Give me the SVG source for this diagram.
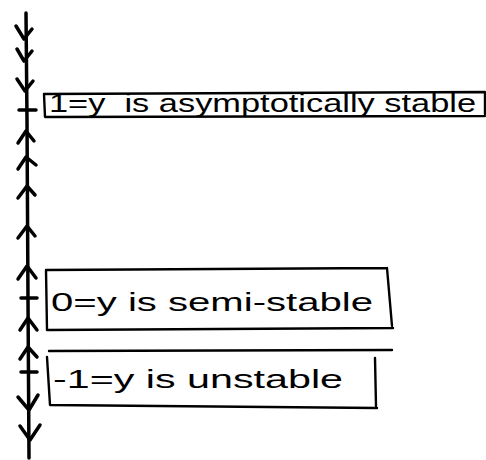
<svg xmlns="http://www.w3.org/2000/svg" width="486" height="460" viewBox="0 0 486 460">
  <style>
    .ln { fill: none; stroke: #000; stroke-width: 3.5; stroke-linecap: round; stroke-linejoin: round; }
    .box { fill: none; stroke: #000; stroke-width: 2.4; stroke-linecap: round; stroke-linejoin: round; }
    .tx { font-family: "Liberation Sans", "DejaVu Sans", sans-serif; font-size: 26px; fill: #000; }
  </style>
  <rect width="486" height="460" fill="#fff"/>
  <g id="connectors">
    <path class="ln" d="M26,13 L27,120 L28,300 L29,458"/>
    <polyline class="ln" points="16,26 24,39 32,29"/>
    <polyline class="ln" points="17,49 24,61 32,51"/>
    <polyline class="ln" points="17,79 25,91 33,81"/>
    <polyline class="ln" points="18,143 26,131 34,141"/>
    <polyline class="ln" points="18,169 26,157 36,165"/>
    <polyline class="ln" points="18,198 27,186 35,195"/>
    <polyline class="ln" points="18,238 27,226 35,236"/>
    <polyline class="ln" points="18,279 27,266 36,278"/>
    <polyline class="ln" points="20,330 28,318 37,330"/>
    <polyline class="ln" points="20,359 28,347 37,357"/>
    <polyline class="ln" points="18,397 29,410 38,395"/>
    <polyline class="ln" points="20,426 30,440 40,425"/>
  </g>
  <g id="tick-1">
    <path class="ln" d="M19,110 L36,110"/>
  </g>
  <g id="tick-0">
    <path class="ln" d="M21,298 L37,298"/>
  </g>
  <g id="tick-minus1">
    <path class="ln" d="M21,372 L37,372"/>
  </g>
  <g id="box-1">
    <path class="box" d="M44,94 L485,92 M44,94 L45,117 L485,116 M485,92 L485,114"/>
    <text class="tx" x="49" y="112" textLength="427" lengthAdjust="spacingAndGlyphs" xml:space="preserve">1=y  is asymptotically stable</text>
  </g>
  <g id="box-0">
    <path class="box" d="M46,270 L387,268 M46,270 L47,330 L393,328 M387,268 L392,326"/>
    <text class="tx" x="51" y="311" textLength="322" lengthAdjust="spacingAndGlyphs">0=y is semi-stable</text>
  </g>
  <g id="box-minus1">
    <path class="box" d="M49,351 L392,350 M47,357 L50,405 L377,408 M375,358 L376,406"/>
    <text class="tx" x="53" y="388" textLength="290" lengthAdjust="spacingAndGlyphs">-1=y is unstable</text>
  </g>
</svg>
